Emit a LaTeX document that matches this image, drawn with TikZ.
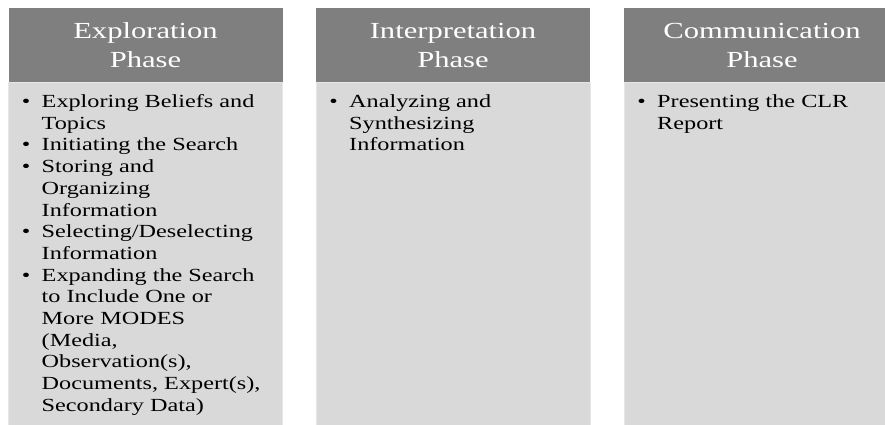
\documentclass[tikz,border=0pt]{standalone}
\usepackage{fontspec}
\setmainfont{Liberation Serif}
\newfontfamily\hdfont[FakeStretch=1.33]{Liberation Serif}
\newfontfamily\bdfont[FakeStretch=1.31]{Liberation Serif}
\definecolor{hdgray}{HTML}{7F7F7F}
\definecolor{bdgray}{HTML}{D9D9D9}
\definecolor{bdedge}{HTML}{E6E6E6}
\begin{document}
\begin{tikzpicture}[x=1pt,y=-1pt,
  hdbox/.style={fill=hdgray, draw=none, minimum width=274pt, minimum height=74pt, inner sep=0pt, outer sep=0pt, anchor=north west},
  bdbox/.style={fill=bdgray, draw=bdedge, line width=0.8pt, minimum width=274pt, minimum height=360pt, inner sep=0pt, outer sep=0pt, anchor=north west},
  hdtext/.style={text=white, font=\hdfont\fontsize{23}{29}\selectfont, align=center, anchor=base, inner sep=0pt},
  item/.style={font=\bdfont\fontsize{18.5}{21.7}\selectfont, align=left, anchor=base west, inner sep=0pt},
  bul/.style={font=\bdfont\fontsize{18.5}{21.7}\selectfont, anchor=base, inner sep=0pt}]
\useasboundingbox (0,0) rectangle (885,425);
\clip (0,0) rectangle (885,425);
% column 1 (multi-line nodes are placed at the baseline of their last line)
\node[bdbox] (bd1) at (8.5,82) {};
\node[hdbox] (hd1) at (8.5,8) {};
\node[hdtext] (ht1) at (145.5,68) {Exploration\\Phase};
\node[bul] (b11) at (26,107.5) {•};
\node[item] (i11) at (41.5,129.2) {Exploring Beliefs and\\Topics};
\node[bul] (b12) at (26,150.9) {•};
\node[item] (i12) at (41.5,150.9) {Initiating the Search};
\node[bul] (b13) at (26,172.6) {•};
\node[item] (i13) at (41.5,216.0) {Storing and\\Organizing\\Information};
\node[bul] (b14) at (26,237.7) {•};
\node[item] (i14) at (41.5,259.4) {Selecting/Deselecting\\Information};
\node[bul] (b15) at (26,281.1) {•};
\node[item] (i15) at (41.5,411.3) {Expanding the Search\\to Include One or\\More MODES\\(Media,\\Observation(s),\\Documents, Expert(s),\\Secondary Data)};
% column 2
\node[bdbox] (bd2) at (316,82) {};
\node[hdbox] (hd2) at (316,8) {};
\node[hdtext] (ht2) at (453,68) {Interpretation\\Phase};
\node[bul] (b21) at (333.5,107.5) {•};
\node[item] (i21) at (349,150.9) {Analyzing and\\Synthesizing\\Information};
% column 3
\node[bdbox] (bd3) at (624,82) {};
\node[hdbox] (hd3) at (624,8) {};
\node[hdtext] (ht3) at (762,68) {Communication\\Phase};
\node[bul] (b31) at (641.5,107.5) {•};
\node[item] (i31) at (657,129.2) {Presenting the CLR\\Report};
\end{tikzpicture}
\end{document}
